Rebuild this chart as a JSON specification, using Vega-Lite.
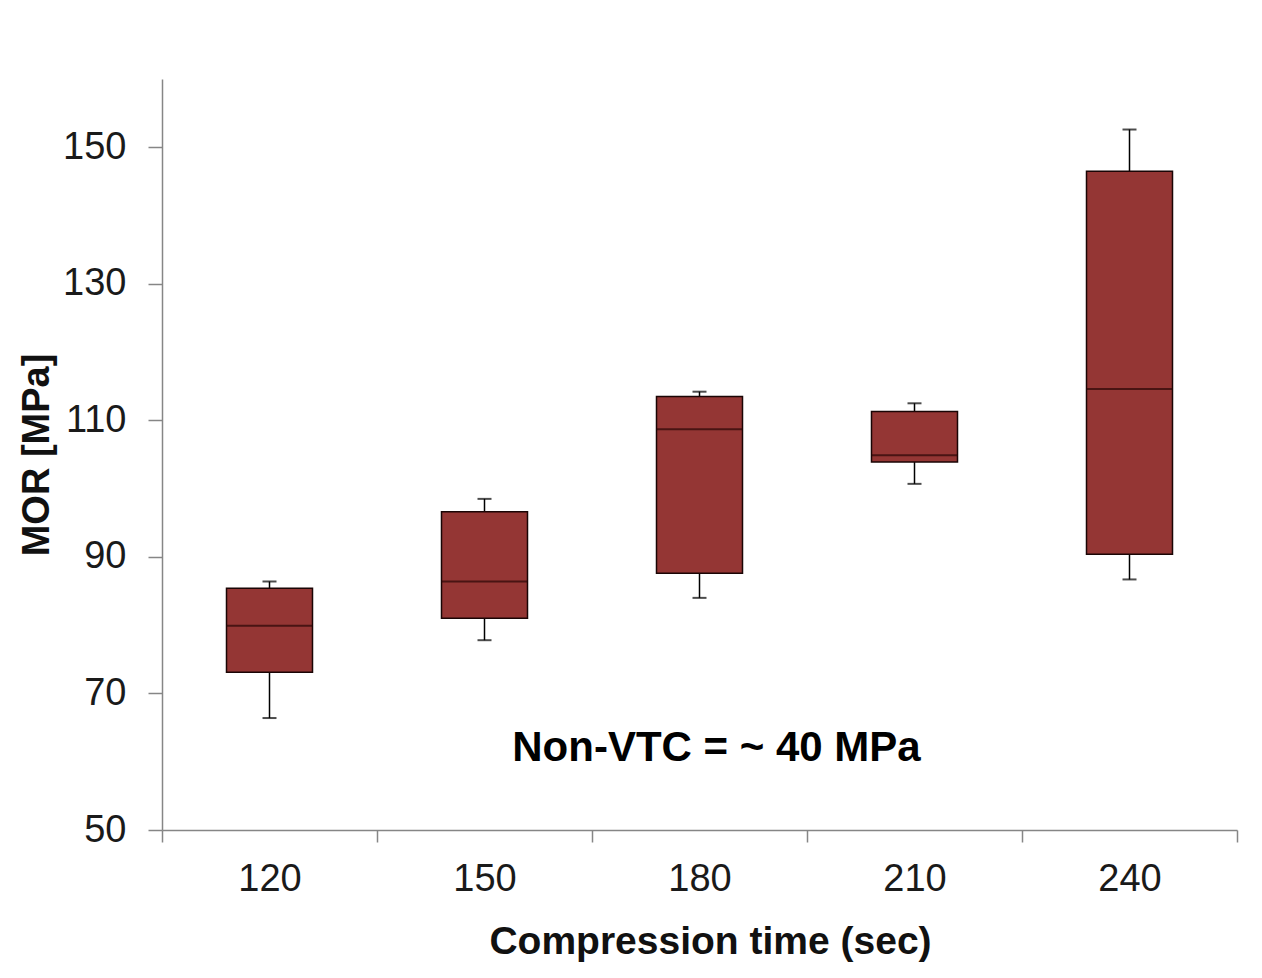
{
  "$schema": "https://vega.github.io/schema/vega-lite/v6.json",
  "width": 1075,
  "height": 751,
  "autosize": "none",
  "padding": {"left": 162, "top": 79, "right": 25, "bottom": 148},
  "background": "white",
  "config": {
    "view": {"stroke": null},
    "font": "Liberation Sans",
    "axis": {
      "domainColor": "#868686",
      "domainWidth": 1.5,
      "tickColor": "#868686",
      "tickWidth": 1.5,
      "grid": false,
      "labelFont": "Liberation Sans",
      "labelFontSize": 38,
      "labelColor": "#1a1a1a",
      "titleFont": "Liberation Sans",
      "titleFontSize": 39,
      "titleFontWeight": "bold",
      "titleColor": "#111111"
    }
  },
  "data": {
    "values": [
      {"time": "120", "lo": 66.4, "q1": 73.1, "med": 79.9, "q3": 85.4, "hi": 86.4},
      {"time": "150", "lo": 77.8, "q1": 81.0, "med": 86.4, "q3": 96.6, "hi": 98.5},
      {"time": "180", "lo": 84.0, "q1": 87.6, "med": 108.7, "q3": 113.5, "hi": 114.2},
      {"time": "210", "lo": 100.7, "q1": 103.9, "med": 104.9, "q3": 111.3, "hi": 112.5},
      {"time": "240", "lo": 86.7, "q1": 90.4, "med": 114.6, "q3": 146.5, "hi": 152.6}
    ]
  },
  "encoding": {
    "x": {
      "field": "time",
      "type": "ordinal",
      "scale": {"paddingInner": 0, "paddingOuter": 0},
      "axis": {
        "title": "Compression time (sec)",
        "labelAngle": 0,
        "tickBand": "extent",
        "tickSize": 12,
        "labelPadding": 18,
        "titlePadding": 24,
        "titleX": 548
      }
    }
  },
  "layer": [
    {
      "mark": {"type": "rule", "color": "#000000", "strokeWidth": 1.5},
      "encoding": {
        "y": {
          "field": "lo",
          "type": "quantitative",
          "scale": {"domain": [50, 160], "nice": false, "zero": false},
          "axis": {
            "title": "MOR [MPa]",
            "titleFontSize": 38,
            "values": [50, 70, 90, 110, 130, 150],
            "tickSize": 14,
            "labelPadding": 22,
            "titlePadding": 6
          }
        },
        "y2": {"field": "hi"}
      }
    },
    {
      "mark": {"type": "tick", "color": "#000000", "size": 14, "thickness": 2},
      "encoding": {"y": {"field": "lo", "type": "quantitative"}}
    },
    {
      "mark": {"type": "tick", "color": "#000000", "size": 14, "thickness": 2},
      "encoding": {"y": {"field": "hi", "type": "quantitative"}}
    },
    {
      "mark": {"type": "bar", "size": 86, "color": "#943634", "stroke": "#1a0505", "strokeWidth": 1.5},
      "encoding": {
        "y": {"field": "q1", "type": "quantitative"},
        "y2": {"field": "q3"}
      }
    },
    {
      "mark": {"type": "tick", "color": "#2a0505", "size": 86, "thickness": 2},
      "encoding": {"y": {"field": "med", "type": "quantitative"}}
    },
    {
      "data": {"values": [{"label": "Non-VTC = ~ 40 MPa"}]},
      "mark": {"type": "text", "font": "Liberation Sans", "fontSize": 42, "fontWeight": "bold", "color": "#000000", "baseline": "middle", "align": "center", "dx": 17},
      "encoding": {
        "x": {"datum": "180"},
        "y": {"datum": 62},
        "text": {"field": "label"}
      }
    }
  ]
}
